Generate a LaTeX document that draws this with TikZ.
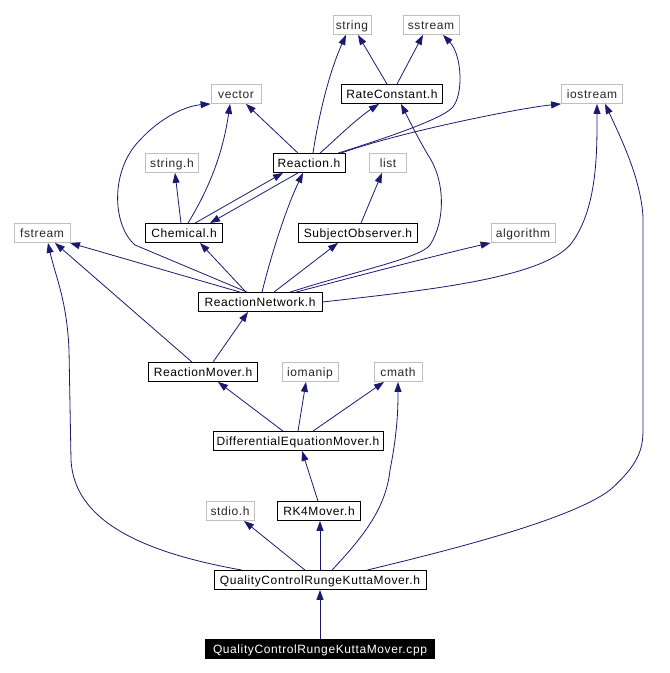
\documentclass[tikz,border=0pt]{standalone}
\usepackage{fontspec}
\setmainfont{Liberation Sans}[LetterSpace=5]
\usepackage{xcolor}
\usepackage{tikz}
\usetikzlibrary{arrows.meta, positioning}
\definecolor{edgeblue}{HTML}{191970}
\definecolor{sysgray}{HTML}{BFBFBF}

\begin{document}
\begin{tikzpicture}[
  x=1pt, y=-1pt,
  filebox/.style={draw, line width=0.8pt, minimum height=19pt, inner xsep=2pt, inner ysep=0pt, text height=10pt, text depth=2pt, font=\fontsize{12}{14}\selectfont},
  sysfile/.style={filebox, draw=sysgray, text=black!85},
  projfile/.style={filebox, draw=black},
  mainfile/.style={filebox, draw=black, fill=black, text=white},
  incl/.style={-{Triangle[length=10pt, width=7pt]}, line width=0.8pt, edgeblue}
]
\useasboundingbox (0,0) rectangle (670,673);
\node[sysfile, minimum width=38pt] (string) at (352,25) {string};
\node[sysfile, minimum width=56pt] (sstream) at (431,25) {sstream};
\node[sysfile, minimum width=50pt] (vector) at (236,94) {vector};
\node[projfile, minimum width=101pt] (rateconst) at (392,94) {RateConstant.h};
\node[sysfile, minimum width=61pt] (iostream) at (592,94) {iostream};
\node[sysfile, minimum width=53pt] (stringh) at (172,163) {string.h};
\node[projfile, minimum width=72pt] (reaction) at (309,163) {Reaction.h};
\node[sysfile, minimum width=37pt] (list) at (388,163) {list};
\node[sysfile, minimum width=56pt] (fstream) at (42,233) {fstream};
\node[projfile, minimum width=77pt] (chemical) at (184,233) {Chemical.h};
\node[projfile, minimum width=119pt] (subjobs) at (358,233) {SubjectObserver.h};
\node[sysfile, minimum width=64pt] (algorithm) at (523,233) {algorithm};
\node[projfile, minimum width=124pt] (reactnet) at (260,302) {ReactionNetwork.h};
\node[projfile, minimum width=109pt] (reactmover) at (203,372) {ReactionMover.h};
\node[sysfile, minimum width=56pt] (iomanip) at (310,372) {iomanip};
\node[sysfile, minimum width=48pt] (cmath) at (398,372) {cmath};
\node[projfile, minimum width=170pt] (diffeq) at (298,441) {DifferentialEquationMover.h};
\node[sysfile, minimum width=48pt] (stdioh) at (230,511) {stdio.h};
\node[projfile, minimum width=83pt] (rkfour) at (319,511) {RK4Mover.h};
\node[projfile, minimum width=212pt] (qcrkmh) at (320,580) {QualityControlRungeKuttaMover.h};
\node[mainfile, minimum width=229pt] (qcrkmcpp) at (320,649) {QualityControlRungeKuttaMover.cpp};
\draw[incl] ([xshift=4pt]reaction.north) .. controls (318,120) and (328,75) .. ([xshift=-6pt]string.south);
\draw[incl] ([xshift=-5pt]rateconst.north) -- ([xshift=6pt]string.south);
\draw[incl] ([xshift=5pt]rateconst.north) -- ([xshift=-8pt]sstream.south);
\draw[incl] ([xshift=29pt]reaction.north) .. controls (380,140) and (440,120) .. (452,108) .. controls (464,95) and (462,55) .. ([xshift=12pt]sstream.south);
\draw[incl] ([xshift=-11pt]reaction.north) -- ([xshift=10pt]vector.south);
\draw[incl] ([xshift=11pt]reaction.north) .. controls (335,140) and (355,120) .. ([xshift=-13pt]rateconst.south);
\draw[incl] ([xshift=32pt]reaction.north) .. controls (400,132) and (520,108) .. (iostream.south west);
\draw[incl] ([xshift=4pt]chemical.north) .. controls (205,195) and (222,160) .. ([xshift=-6pt]vector.south);
\draw[incl] ([xshift=-13pt]reactnet.north) -- (135,245) .. controls (112,225) and (110,170) .. (140,140) .. controls (160,118) and (185,106) .. (vector.south west);
\draw[incl] ([xshift=-3pt]chemical.north) -- ([xshift=3pt]stringh.south);
\draw[incl] ([xshift=11pt]chemical.north) -- ([xshift=-26pt]reaction.south);
\draw[incl] ([xshift=-11pt]reaction.south) -- ([xshift=26pt]chemical.north);
\draw[incl] ([xshift=3pt]subjobs.north) -- ([xshift=-6pt]list.south);
\draw[incl] ([xshift=-20pt]reactnet.north) -- ([xshift=28pt]fstream.south);
\draw[incl] ([xshift=-14pt]reactnet.north) -- ([xshift=16pt]chemical.south);
\draw[incl] ([xshift=2pt]reactnet.north) .. controls (275,240) and (290,200) .. ([xshift=-6pt]reaction.south);
\draw[incl] ([xshift=14pt]reactnet.north) -- ([xshift=-20pt]subjobs.south);
\draw[incl] ([xshift=30pt]reactnet.north) .. controls (360,270) and (420,258) .. (430,245) .. controls (446,220) and (445,180) .. (428,155) .. controls (418,138) and (410,122) .. ([xshift=9pt]rateconst.south);
\draw[incl] ([xshift=36pt]reactnet.north) .. controls (380,270) and (450,252) .. (algorithm.south west);
\draw[incl] (reactnet.east) .. controls (430,290) and (540,278) .. (570,245) .. controls (598,210) and (597,150) .. ([xshift=5pt]iostream.south);
\draw[incl] ([xshift=10pt]reactmover.north) -- ([xshift=-12pt]reactnet.south);
\draw[incl] ([xshift=-11pt]reactmover.north) -- ([xshift=13pt]fstream.south);
\draw[incl] ([xshift=-15pt]diffeq.north) -- ([xshift=15pt]reactmover.south);
\draw[incl] (diffeq.north) -- ([xshift=-4pt]iomanip.south);
\draw[incl] ([xshift=15pt]diffeq.north) -- ([xshift=-14pt]cmath.south);
\draw[incl] ([xshift=-1pt]rkfour.north) -- ([xshift=4pt]diffeq.south);
\draw[incl] ([xshift=-15pt]qcrkmh.north) -- ([xshift=14pt]stdioh.south);
\draw[incl] (qcrkmh.north) -- ([xshift=1pt]rkfour.south);
\draw[incl] ([xshift=12pt]qcrkmh.north) .. controls (360,540) and (386,510) .. (390,470) .. controls (398,430) and (398,405) .. (cmath.south);
\draw[incl] ([xshift=-78pt]qcrkmh.north) .. controls (140,552) and (74,520) .. (71,460) -- (69,350) .. controls (67,300) and (55,275) .. ([xshift=6pt]fstream.south);
\draw[incl] ([xshift=47pt]qcrkmh.north) .. controls (450,550) and (570,520) .. (610,490) .. controls (638,465) and (643,450) .. (643,430) -- (643,217) .. controls (641,180) and (622,140) .. ([xshift=13pt]iostream.south);
\draw[incl] (qcrkmcpp.north) -- (qcrkmh.south);
\end{tikzpicture}
\end{document}
